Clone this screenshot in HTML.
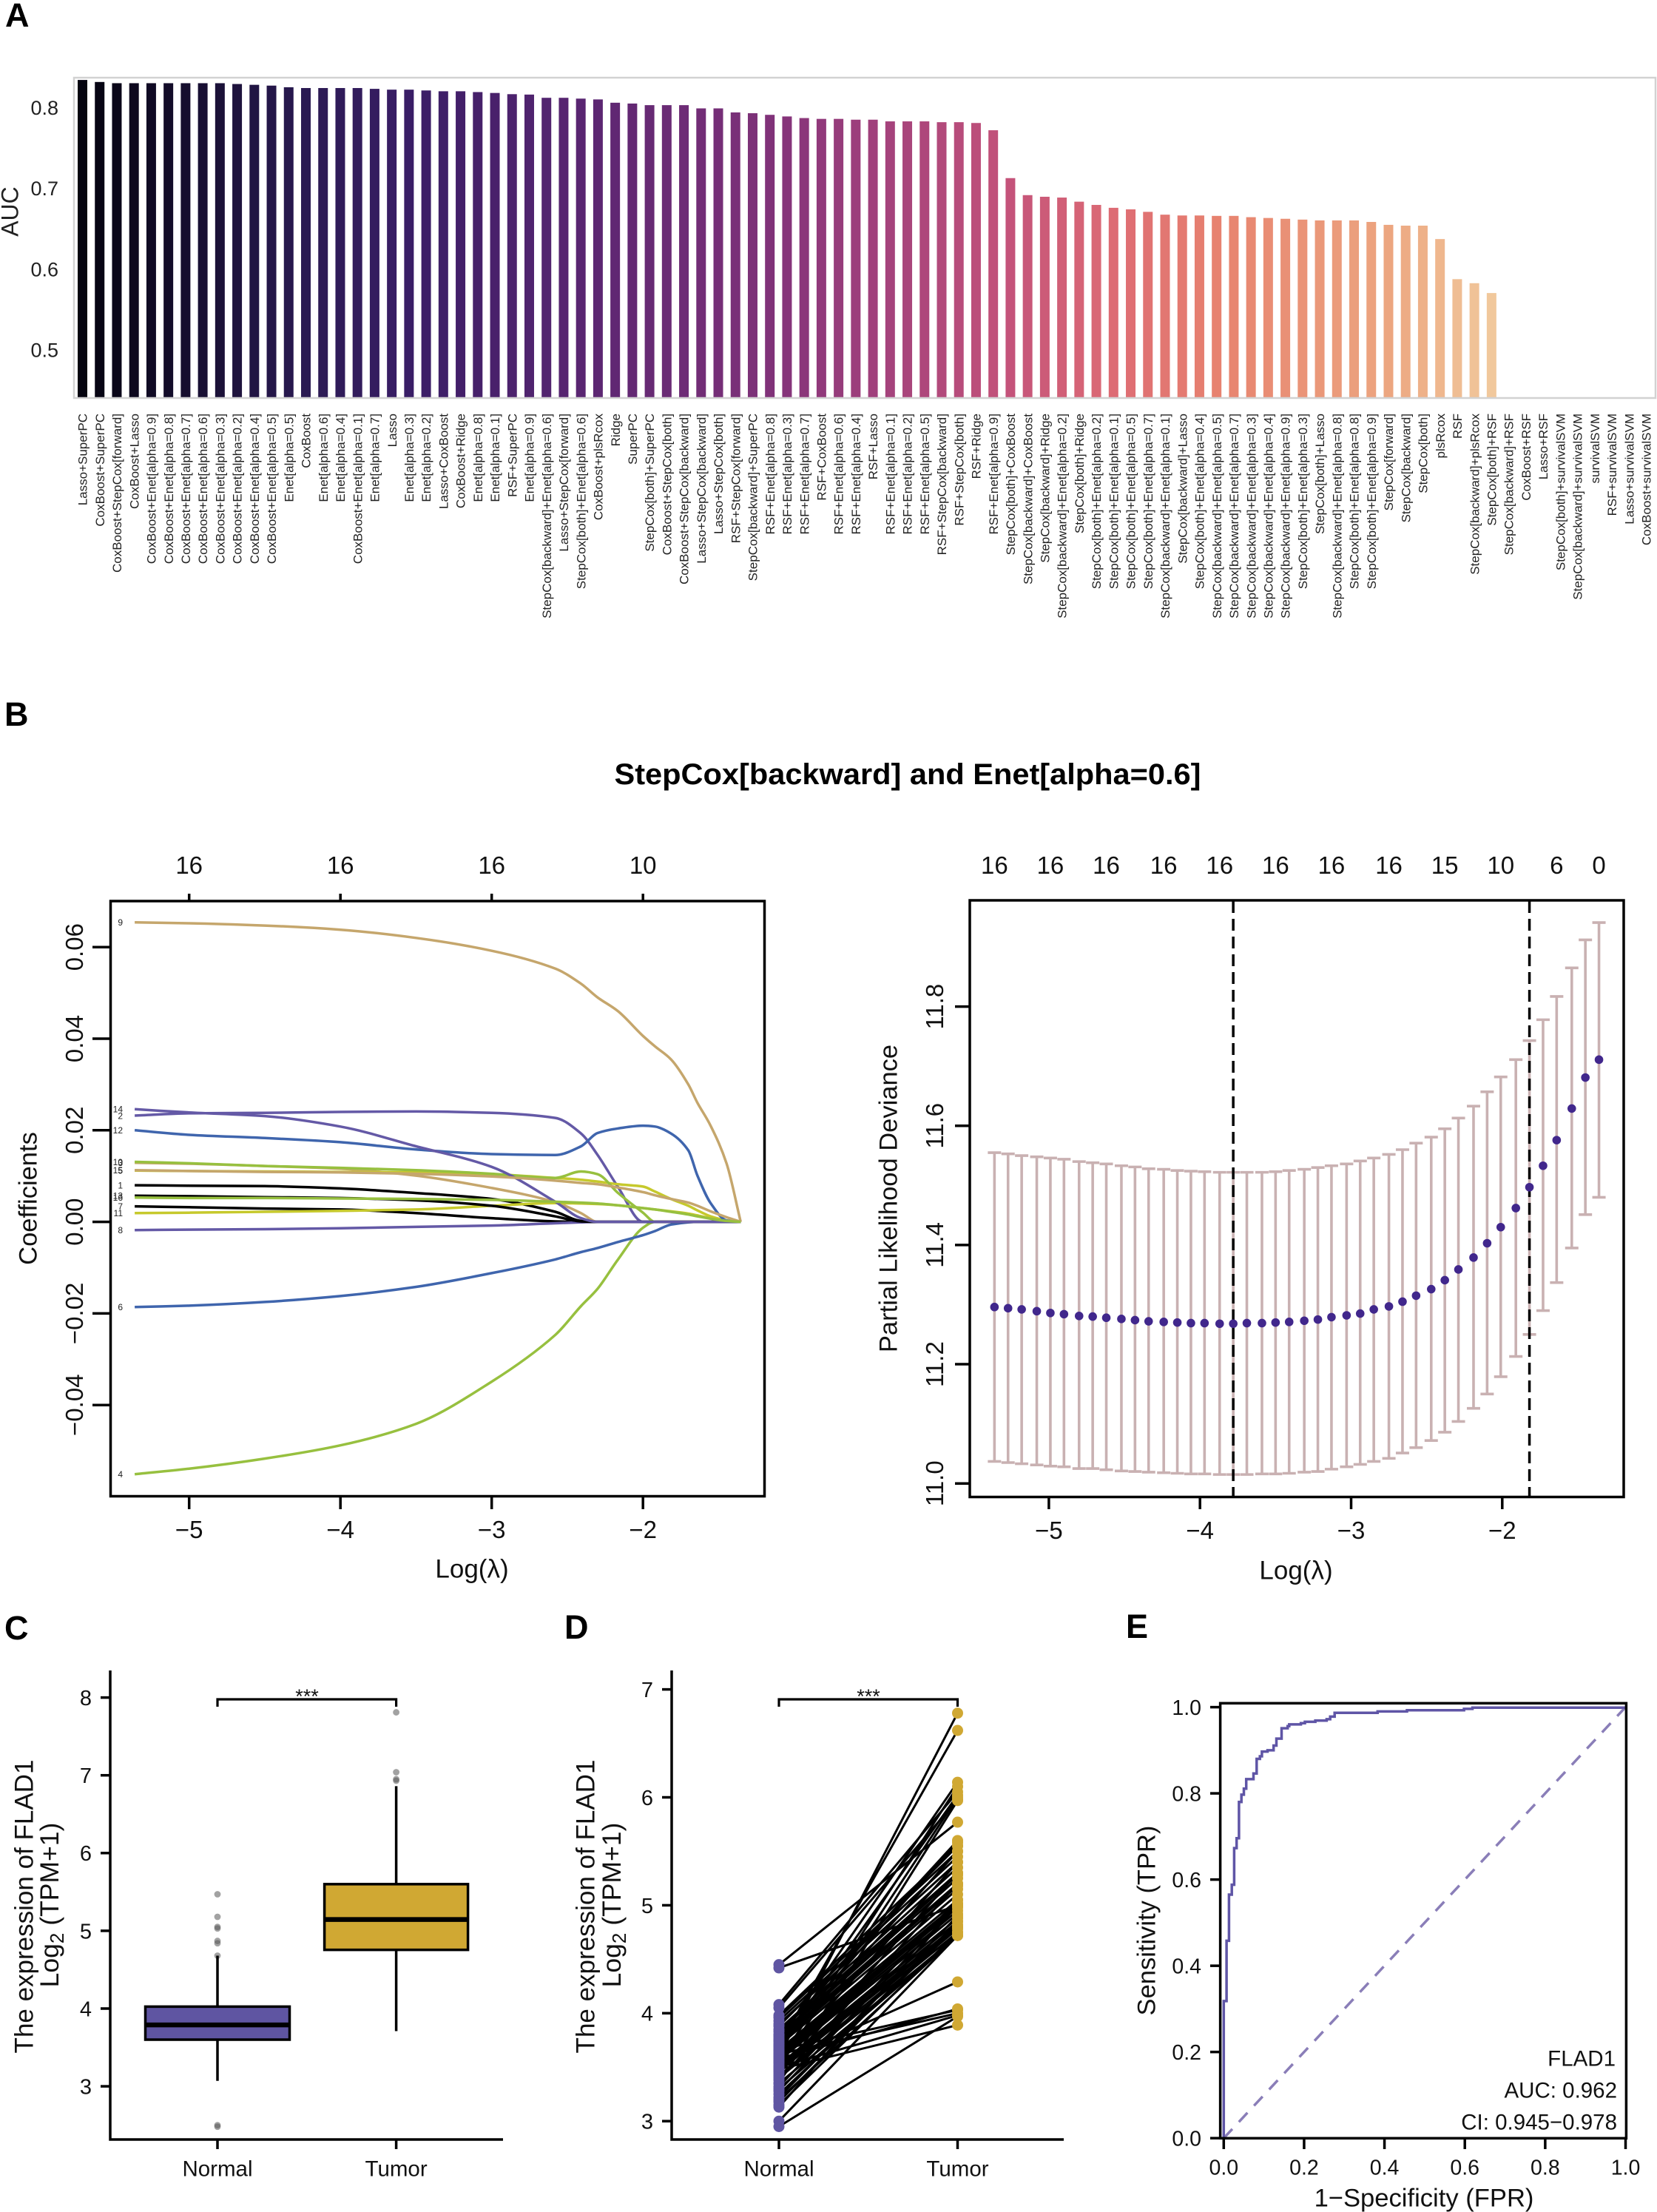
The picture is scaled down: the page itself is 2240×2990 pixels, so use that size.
<!DOCTYPE html>
<html lang="en">
<head>
<meta charset="utf-8">
<title>StepCox[backward] and Enet[alpha=0.6] figure</title>
<style>
html,body{margin:0;padding:0;background:#fff;}
svg{display:block;font-family:"Liberation Sans",Arial,sans-serif;}
</style>
</head>
<body>
<svg id="fig" xmlns="http://www.w3.org/2000/svg" width="2240" height="2990" viewBox="0 0 2240 2990">
<rect width="2240" height="2990" fill="#fff"/>
<text x="7" y="36" font-size="45" font-weight="bold">A</text>
<text x="6" y="981" font-size="45" font-weight="bold">B</text>
<text x="6" y="2216" font-size="45" font-weight="bold">C</text>
<text x="763" y="2215" font-size="45" font-weight="bold">D</text>
<text x="1522" y="2214" font-size="45" font-weight="bold">E</text>
<g id="panelA">
<text transform="translate(13 286) rotate(-90)" dy=".36em" text-anchor="middle" font-size="32" fill="#222">AUC</text>
</g>
<text x="1227" y="1060" text-anchor="middle" font-size="40" font-weight="bold" textLength="793" lengthAdjust="spacingAndGlyphs">StepCox[backward] and Enet[alpha=0.6]</text>
<g id="panelB1">
<text transform="translate(37 1620) rotate(-90)" dy=".36em" text-anchor="middle" font-size="34.5" fill="#111">Coefficients</text>
<text x="638" y="2120" dy=".36em" text-anchor="middle" font-size="35" fill="#111">Log(λ)</text>
</g>
<g id="panelB2">
<text transform="translate(1200 1620) rotate(-90)" dy=".36em" text-anchor="middle" font-size="34.5" fill="#111">Partial Likelihood Deviance</text>
<text x="1752" y="2122" dy=".36em" text-anchor="middle" font-size="35" fill="#111">Log(λ)</text>
</g>
<g id="panelC">
<text transform="translate(32 2577) rotate(-90)" dy=".36em" text-anchor="middle" font-size="35" fill="#111">The expression of FLAD1</text>
<text transform="translate(66 2575) rotate(-90)" dy=".36em" text-anchor="middle" font-size="35.5" fill="#111">Log<tspan dy="7" font-size="26">2</tspan><tspan dy="-7"> (TPM+1)</tspan></text>
<text x="415" y="2302" text-anchor="middle" font-size="27" fill="#111">***</text>
</g>
<g id="panelD">
<text transform="translate(791 2577) rotate(-90)" dy=".36em" text-anchor="middle" font-size="35" fill="#111">The expression of FLAD1</text>
<text transform="translate(826 2575) rotate(-90)" dy=".36em" text-anchor="middle" font-size="35.5" fill="#111">Log<tspan dy="7" font-size="26">2</tspan><tspan dy="-7"> (TPM+1)</tspan></text>
<text x="1174" y="2302" text-anchor="middle" font-size="27" fill="#111">***</text>
</g>
<g id="panelE">
<text transform="translate(1549 2596) rotate(-90)" dy=".36em" text-anchor="middle" font-size="34.5" fill="#111">Sensitivity (TPR)</text>
<text x="1925" y="2970" dy=".36em" text-anchor="middle" font-size="34.6" fill="#111">1−Specificity (FPR)</text>
<text x="2184" y="2782" dy=".36em" text-anchor="end" font-size="29.5" fill="#111">FLAD1</text>
<text x="2186" y="2825" dy=".36em" text-anchor="end" font-size="29.5" fill="#111">AUC: 0.962</text>
<text x="2186" y="2868" dy=".36em" text-anchor="end" font-size="29.5" fill="#111">CI: 0.945−0.978</text>
</g>
</svg>
<script>
/* ---------- Panel A data ---------- */
const aucModels = ["Lasso+SuperPC","CoxBoost+SuperPC","CoxBoost+StepCox[forward]","CoxBoost+Lasso","CoxBoost+Enet[alpha=0.9]","CoxBoost+Enet[alpha=0.8]","CoxBoost+Enet[alpha=0.7]","CoxBoost+Enet[alpha=0.6]","CoxBoost+Enet[alpha=0.3]","CoxBoost+Enet[alpha=0.2]","CoxBoost+Enet[alpha=0.4]","CoxBoost+Enet[alpha=0.5]","Enet[alpha=0.5]","CoxBoost","Enet[alpha=0.6]","Enet[alpha=0.4]","CoxBoost+Enet[alpha=0.1]","Enet[alpha=0.7]","Lasso","Enet[alpha=0.3]","Enet[alpha=0.2]","Lasso+CoxBoost","CoxBoost+Ridge","Enet[alpha=0.8]","Enet[alpha=0.1]","RSF+SuperPC","Enet[alpha=0.9]","StepCox[backward]+Enet[alpha=0.6]","Lasso+StepCox[forward]","StepCox[both]+Enet[alpha=0.6]","CoxBoost+plsRcox","Ridge","SuperPC","StepCox[both]+SuperPC","CoxBoost+StepCox[both]","CoxBoost+StepCox[backward]","Lasso+StepCox[backward]","Lasso+StepCox[both]","RSF+StepCox[forward]","StepCox[backward]+SuperPC","RSF+Enet[alpha=0.8]","RSF+Enet[alpha=0.3]","RSF+Enet[alpha=0.7]","RSF+CoxBoost","RSF+Enet[alpha=0.6]","RSF+Enet[alpha=0.4]","RSF+Lasso","RSF+Enet[alpha=0.1]","RSF+Enet[alpha=0.2]","RSF+Enet[alpha=0.5]","RSF+StepCox[backward]","RSF+StepCox[both]","RSF+Ridge","RSF+Enet[alpha=0.9]","StepCox[both]+CoxBoost","StepCox[backward]+CoxBoost","StepCox[backward]+Ridge","StepCox[backward]+Enet[alpha=0.2]","StepCox[both]+Ridge","StepCox[both]+Enet[alpha=0.2]","StepCox[both]+Enet[alpha=0.1]","StepCox[both]+Enet[alpha=0.5]","StepCox[both]+Enet[alpha=0.7]","StepCox[backward]+Enet[alpha=0.1]","StepCox[backward]+Lasso","StepCox[both]+Enet[alpha=0.4]","StepCox[backward]+Enet[alpha=0.5]","StepCox[backward]+Enet[alpha=0.7]","StepCox[backward]+Enet[alpha=0.3]","StepCox[backward]+Enet[alpha=0.4]","StepCox[backward]+Enet[alpha=0.9]","StepCox[both]+Enet[alpha=0.3]","StepCox[both]+Lasso","StepCox[backward]+Enet[alpha=0.8]","StepCox[both]+Enet[alpha=0.8]","StepCox[both]+Enet[alpha=0.9]","StepCox[forward]","StepCox[backward]","StepCox[both]","plsRcox","RSF","StepCox[backward]+plsRcox","StepCox[both]+RSF","StepCox[backward]+RSF","CoxBoost+RSF","Lasso+RSF","StepCox[both]+survivalSVM","StepCox[backward]+survivalSVM","survivalSVM","RSF+survivalSVM","Lasso+survivalSVM","CoxBoost+survivalSVM"];
const aucValues = [0.8342,0.8317,0.8302,0.8302,0.8302,0.8302,0.8302,0.8302,0.8302,0.8292,0.8282,0.8272,0.8252,0.8242,0.8242,0.8242,0.8242,0.8232,0.8222,0.8222,0.8212,0.8202,0.8202,0.8192,0.8181,0.8166,0.8161,0.8121,0.8121,0.8111,0.8101,0.8060,0.8050,0.8030,0.8030,0.8030,0.7990,0.7990,0.7940,0.7930,0.7910,0.7890,0.7870,0.7860,0.7860,0.7850,0.7850,0.7829,0.7829,0.7829,0.7819,0.7819,0.7809,0.7719,0.7126,0.6915,0.6895,0.6885,0.6834,0.6794,0.6758,0.6739,0.6708,0.6673,0.6663,0.6663,0.6658,0.6658,0.6642,0.6632,0.6622,0.6612,0.6602,0.6602,0.6602,0.6583,0.6547,0.6537,0.6537,0.6371,0.5874,0.5824,0.5702,null,null,null,null,null,null,null,null,null];
const aucTicks = [0.5,0.6,0.7,0.8];

/* ---------- Panel B left data ---------- */
const coefLogLambda = [-5.36,-5,-4.5,-4,-3.5,-3,-2.58,-2.41,-2.3,-2.165,-2,-1.92,-1.815,-1.7,-1.64,-1.553,-1.447,-1.354];
const coef1 = [0.0080,0.0079,0.0078,0.0073,0.0063,0.0050,0.0022,0.0002,0,0,0,0,0,0,0,0,0,0];
const coef2 = [0.0232,0.0237,0.0238,0.0240,0.0241,0.0238,0.0227,0.0193,0.0146,0.0076,0,0,0,0,0,0,0,0];
const coef3 = [0.0129,0.0127,0.0122,0.0116,0.0101,0.0074,0.0043,0.0019,0,0,0,0,0,0,0,0,0,0];
const coef4 = [-0.0551,-0.0539,-0.0517,-0.0488,-0.0441,-0.0349,-0.0247,-0.0184,-0.0146,-0.0082,-0.0013,0,0,0,0,0,0,0];
const coef5 = [0.0112,0.0111,0.0110,0.0109,0.0108,0.0104,0.0096,0.0092,0.0088,0.0082,0.0077,0.0066,0.0050,0.0035,0.0025,0.0012,0.0003,0];
const coef6 = [-0.0186,-0.0183,-0.0175,-0.0162,-0.0142,-0.0112,-0.0082,-0.0066,-0.0057,-0.0044,-0.0029,-0.0020,-0.0006,-0.0001,0,0,0,0];
const coef7 = [0.0034,0.0032,0.0029,0.0027,0.0019,0.0008,0.0001,0,0,0,0,0,0,0,0,0,0,0];
const coef8 = [-0.0018,-0.0017,-0.0016,-0.0014,-0.0011,-0.0008,-0.0003,-0.0001,0,0,0,0,0,0,0,0,0,0];
const coef9 = [0.0654,0.0652,0.0647,0.0638,0.0620,0.0592,0.0553,0.0520,0.0490,0.0460,0.0406,0.0383,0.0355,0.0300,0.0260,0.0210,0.0127,0];
const coef10 = [0.0131,0.0128,0.0122,0.0118,0.0113,0.0105,0.0096,0.0110,0.0104,0.0063,0.0020,0,0,0,0,0,0,0];
const coef11 = [0.0019,0.0020,0.0022,0.0024,0.0027,0.0035,0.0041,0.0040,0.0039,0.0036,0.0030,0.0027,0.0023,0.0018,0.0014,0.0008,0.0002,0];
const coef12 = [0.0200,0.0190,0.0183,0.0174,0.0158,0.0148,0.0146,0.0165,0.0194,0.0204,0.0210,0.0208,0.0193,0.0156,0.0101,0.0041,0.0003,0];
const coef13 = [0.0057,0.0056,0.0054,0.0052,0.0047,0.0035,0.0012,0.0001,0,0,0,0,0,0,0,0,0,0];
const coef14 = [0.0246,0.0239,0.0231,0.0208,0.0165,0.0120,0.0044,0.0008,0,0,0,0,0,0,0,0,0,0];
const coef15 = [0.0113,0.0111,0.0109,0.0108,0.0105,0.0099,0.0090,0.0085,0.0082,0.0075,0.0065,0.0058,0.0050,0.0042,0.0035,0.0023,0.0010,0];
const coef16 = [0.0053,0.0052,0.0052,0.0051,0.0050,0.0048,0.0044,0.0042,0.0040,0.0036,0.0030,0.0027,0.0022,0.0016,0.0012,0.0007,0.0002,0];
const coefTicks = [-0.04,-0.02,0,0.02,0.04,0.06];
const coefTickLabels = ["−0.04","−0.02","0.00","0.02","0.04","0.06"];
const lambdaTicks = [-5,-4,-3,-2];
const lambdaTickLabels = ["−5","−4","−3","−2"];
const coefTopCounts = ["16","16","16","10"];

/* ---------- Panel B right data ---------- */
const cvLogLambda = [-5.36,-5.27,-5.18,-5.08,-4.99,-4.90,-4.80,-4.71,-4.62,-4.52,-4.43,-4.34,-4.24,-4.15,-4.06,-3.97,-3.87,-3.78,-3.69,-3.59,-3.50,-3.41,-3.31,-3.22,-3.13,-3.03,-2.94,-2.85,-2.75,-2.66,-2.57,-2.47,-2.38,-2.29,-2.19,-2.10,-2.01,-1.91,-1.82,-1.73,-1.64,-1.54,-1.45,-1.36];
const cvMean = [11.296,11.294,11.292,11.289,11.286,11.284,11.281,11.280,11.278,11.276,11.274,11.272,11.271,11.270,11.269,11.269,11.268,11.268,11.269,11.269,11.270,11.271,11.273,11.275,11.279,11.282,11.285,11.292,11.297,11.305,11.315,11.326,11.341,11.359,11.379,11.403,11.430,11.462,11.497,11.533,11.576,11.629,11.681,11.711];
const cvUpper = [11.555,11.553,11.550,11.548,11.546,11.544,11.540,11.538,11.536,11.533,11.531,11.528,11.527,11.525,11.524,11.523,11.522,11.522,11.522,11.522,11.523,11.525,11.527,11.530,11.533,11.536,11.541,11.546,11.552,11.560,11.571,11.581,11.595,11.613,11.633,11.657,11.682,11.711,11.743,11.778,11.817,11.865,11.912,11.941];
const cvLower = [11.037,11.035,11.033,11.031,11.029,11.028,11.025,11.025,11.023,11.021,11.020,11.019,11.018,11.017,11.016,11.016,11.015,11.015,11.015,11.016,11.016,11.017,11.019,11.020,11.024,11.028,11.032,11.037,11.042,11.051,11.060,11.072,11.086,11.104,11.126,11.150,11.179,11.213,11.250,11.290,11.337,11.395,11.451,11.480];
const cvVlines = [-3.78,-1.82];
const cvTicks = [11.0,11.2,11.4,11.6,11.8];
const cvTickLabels = ["11.0","11.2","11.4","11.6","11.8"];
const cvTopPos = [-5.36,-4.99,-4.62,-4.24,-3.87,-3.50,-3.13,-2.75,-2.38,-2.01,-1.64,-1.36];
const cvTopCounts = ["16","16","16","16","16","16","16","16","15","10","6","0"];

/* ---------- Panel C data ---------- */
const boxGroups = ["Normal","Tumor"];
const boxQ1 = [3.60,4.755];
const boxMedian = [3.79,5.145];
const boxQ3 = [4.025,5.60];
const boxWhiskerLow = [3.07,3.71];
const boxWhiskerHigh = [4.68,6.86];
const normalOutliers = [5.47,5.18,5.05,5.03,4.87,4.84,4.68,2.50,2.48];
const tumorOutliers = [7.81,7.04,6.95,6.93];
const boxTicks = [3,4,5,6,7,8];

/* ---------- Panel D data ---------- */
const pairedNormal = [4.45,4.42,4.08,4.05,3.75,3.55,3.60,3.70,3.70,3.35,3.80,3.98,3.96,3.93,3.90,3.88,3.85,3.83,3.80,3.78,3.76,3.74,3.72,3.70,3.68,3.66,3.64,3.62,3.60,3.58,3.56,3.54,3.52,3.50,3.48,3.46,3.44,3.42,3.40,3.38,3.35,3.32,3.30,3.28,3.25,3.22,3.20,3.18,3.15,3.13,3.00,2.95,3.55,3.58,3.62,3.50,3.48,3.66,3.50,3.75];
const pairedTumor = [5.77,5.00,6.05,5.98,6.14,6.10,6.78,6.62,6.02,5.97,5.60,5.55,5.50,5.45,5.40,5.55,5.35,5.30,5.28,5.25,5.20,5.18,5.15,5.10,5.50,5.05,5.02,5.00,4.98,4.95,4.92,5.40,4.88,4.85,4.82,4.80,5.30,4.78,4.75,5.20,4.72,5.05,4.72,5.00,4.80,4.90,4.72,4.85,4.75,5.00,4.72,3.97,4.29,4.04,4.00,3.98,3.89,4.03,6.00,5.58];
const pairedTicks = [3,4,5,6,7];

/* ---------- Panel E data ---------- */
const rocFpr = [0,0,0.007,0.013,0.020,0.026,0.032,0.038,0.044,0.050,0.056,0.074,0.082,0.090,0.095,0.109,0.124,0.131,0.144,0.159,0.163,0.192,0.202,0.228,0.256,0.265,0.276,0.383,0.456,0.598,0.619,1.0];
const rocTpr = [0,0.318,0.458,0.565,0.588,0.673,0.696,0.780,0.797,0.811,0.833,0.846,0.880,0.886,0.897,0.900,0.911,0.927,0.951,0.956,0.960,0.963,0.966,0.969,0.972,0.978,0.987,0.990,0.993,0.996,0.999,1.0];
const rocTicks = [0,0.2,0.4,0.6,0.8,1.0];
const rocTickLabels = ["0.0","0.2","0.4","0.6","0.8","1.0"];

/* ---------- helpers ---------- */
const NS = "http://www.w3.org/2000/svg";
function mk(parent, tag, attrs, txt) {
  const el = document.createElementNS(NS, tag);
  for (const k in attrs) el.setAttribute(k, attrs[k]);
  if (txt !== undefined) el.textContent = txt;
  parent.appendChild(el);
  return el;
}
function hLine(parent, x1, y1, x2, y2, w, color) {
  return mk(parent, "line", {x1:x1, y1:y1, x2:x2, y2:y2, stroke:color||"#000", "stroke-width":w});
}
function lab(parent, x, y, str, size, anchor, rot, color) {
  const a = {"text-anchor":anchor||"middle", "font-size":size, fill:color||"#111", dy:".36em"};
  if (rot) a.transform = "translate("+x+" "+y+") rotate(-90)";
  else { a.x = x; a.y = y; }
  return mk(parent, "text", a, str);
}
function hex2(c){return [parseInt(c.slice(1,3),16),parseInt(c.slice(3,5),16),parseInt(c.slice(5,7),16)];}
function barColor(i){
  const st = [[0,'#04030f'],[13,'#2a1a52'],[19,'#391d66'],[30,'#5c2672'],[40,'#803279'],[45,'#9c3e7c'],[54,'#c4537a'],[60,'#dd6b74'],[66,'#e7826f'],[76,'#eca680'],[82,'#f1c89c']];
  for (let k=0;k<st.length-1;k++){
    if (i<=st[k+1][0]){
      const t=(i-st[k][0])/(st[k+1][0]-st[k][0]), a=hex2(st[k][1]), b=hex2(st[k+1][1]);
      return "rgb("+a.map((v,j)=>Math.round(v+(b[j]-v)*t)).join(",")+")";
    }
  }
  return st[st.length-1][1];
}
/* monotone cubic path through (px,py) screen points */
function smoothPath(px, py){
  const n = px.length, d = [], m = [];
  for (let i=0;i<n-1;i++) d[i] = (py[i+1]-py[i])/(px[i+1]-px[i]);
  m[0] = d[0]; m[n-1] = d[n-2];
  for (let i=1;i<n-1;i++) m[i] = d[i-1]*d[i] <= 0 ? 0 : 2*d[i-1]*d[i]/(d[i-1]+d[i]);
  let s = "M"+px[0].toFixed(1)+" "+py[0].toFixed(1);
  for (let i=0;i<n-1;i++){
    const h = (px[i+1]-px[i])/3;
    s += "C"+(px[i]+h).toFixed(1)+" "+(py[i]+m[i]*h).toFixed(1)+" "+(px[i+1]-h).toFixed(1)+" "+(py[i+1]-m[i+1]*h).toFixed(1)+" "+px[i+1].toFixed(1)+" "+py[i+1].toFixed(1);
  }
  return s;
}

/* ---------- Panel A ---------- */
(function(){
  const g = document.getElementById("panelA");
  const xA = i => 111.5 + i*23.23;
  const yA = v => 145.4 + (0.8-v)*1091;
  const base = 538;
  aucValues.forEach((v,i)=>{
    if (v===null) return;
    const r = mk(g,"rect",{x:xA(i)-6.5,y:yA(v),width:13,height:base-yA(v),fill:barColor(i)});
    
    
  });
  const frame = mk(g,"rect",{x:100,y:105,width:2138,height:433,fill:"none",stroke:"#d2d2d2","stroke-width":2.5});
  
  
  aucTicks.forEach(t=>{
    const l = lab(g,79,yA(t),t.toFixed(1),27,"end",false,"#222");
    
    
  });
  aucModels.forEach((m,i)=>{
    const l = lab(g,xA(i),559,m,17,"end",true,"#222");
    
    
  });
})();

/* ---------- Panel B left ---------- */
(function(){
  const g = document.getElementById("panelB1");
  const xL = v => 255.7 + (v+5)*204.5;
  const yC = v => 1651.6 - v*6190;
  const series = [
    ["1",coef1,"#000000"],["2",coef2,"#6459a6"],["3",coef3,"#c5a66c"],["4",coef4,"#97c03f"],
    ["5",coef5,"#c6c92c"],["6",coef6,"#3f65ad"],["7",coef7,"#000000"],["8",coef8,"#6459a6"],
    ["9",coef9,"#c5a66c"],["10",coef10,"#97c03f"],["11",coef11,"#c6c92c"],["12",coef12,"#3f65ad"],
    ["13",coef13,"#000000"],["14",coef14,"#6459a6"],["15",coef15,"#c5a66c"],["16",coef16,"#97c03f"]
  ];
  series.forEach(s=>{
    const px = coefLogLambda.map(xL), py = s[1].map(yC);
    const pl = mk(g,"path",{d:smoothPath(px,py),fill:"none",stroke:s[2],"stroke-width":3.5,"stroke-linejoin":"round"});
    
    
    const t = lab(g,166,yC(s[1][0]),s[0],12,"end",false,"#222");
    
    
  });
  const frame = mk(g,"rect",{x:149.5,y:1218,width:884,height:804.5,fill:"none",stroke:"#000","stroke-width":3.5});
  
  
  lambdaTicks.forEach((t,i)=>{
    const a = hLine(g,xL(t),2022,xL(t),2040,3.5);
    
    
    const b = hLine(g,xL(t),1208,xL(t),1218,3.5);
    
    
    const l = lab(g,xL(t),2067,lambdaTickLabels[i],33);
    
    
    const c = lab(g,xL(t),1169,coefTopCounts[i],33);
    
    
  });
  coefTicks.forEach((t,i)=>{
    const a = hLine(g,125,yC(t),149.5,yC(t),3.5);
    
    
    const l = lab(g,100,yC(t),coefTickLabels[i],33,"middle",true);
    
    
  });
})();

/* ---------- Panel B right ---------- */
(function(){
  const g = document.getElementById("panelB2");
  const xR = v => 1417.9 + (v+5)*204.3;
  const yD = v => 2005.2 - (v-11)*805.7;
  cvMean.forEach((m,i)=>{
    const x = xR(cvLogLambda[i]);
    const p = mk(g,"path",{d:"M"+x+" "+yD(cvLower[i])+"V"+yD(cvUpper[i])+"M"+(x-9)+" "+yD(cvUpper[i])+"H"+(x+9)+"M"+(x-9)+" "+yD(cvLower[i])+"H"+(x+9),fill:"none",stroke:"#c9b1b2","stroke-width":3.6});
    
    
  });
  cvVlines.forEach(v=>{
    const l = mk(g,"line",{x1:xR(v),x2:xR(v),y1:1218,y2:2023,stroke:"#000","stroke-width":3.5,"stroke-dasharray":"16 8"});
    
    
  });
  cvMean.forEach((m,i)=>{
    const c = mk(g,"circle",{cx:xR(cvLogLambda[i]),cy:yD(m),r:5.8,fill:"#41278c"});
    
    
  });
  const frame = mk(g,"rect",{x:1311,y:1217,width:884,height:806.5,fill:"none",stroke:"#000","stroke-width":3.5});
  
  
  lambdaTicks.forEach((t,i)=>{
    const a = hLine(g,xR(t),2023,xR(t),2040,3.5);
    
    
    const l = lab(g,xR(t),2068,lambdaTickLabels[i],33);
    
    
  });
  cvTicks.forEach((t,i)=>{
    const a = hLine(g,1291,yD(t),1311,yD(t),3.5);
    
    
    const l = lab(g,1263,yD(t),cvTickLabels[i],33,"middle",true);
    
    
  });
  cvTopPos.forEach((p,i)=>{
    const l = lab(g,xR(p),1169,cvTopCounts[i],33);
    
    
  });
})();

/* ---------- shared L-axes for C and D ---------- */
function lAxes(g, axisX, rightX, ticks, yFn, prefix, xCenters){
  const ax = mk(g,"path",{d:"M"+axisX+" 2258V2892H"+rightX,fill:"none",stroke:"#000","stroke-width":3.5});
  
  
  ticks.forEach(t=>{
    const a = hLine(g,axisX-13,yFn(t),axisX,yFn(t),3.5);
    
    
    const l = lab(g,axisX-25,yFn(t),String(t),29,"end");
    
    
  });
  boxGroups.forEach((n,i)=>{
    const a = hLine(g,xCenters[i],2892,xCenters[i],2905,3.5);
    
    
    const l = lab(g,xCenters[i],2931,n,29.5);
    
    
  });
  const br = mk(g,"path",{d:"M"+xCenters[0]+" 2307V2297H"+xCenters[1]+"V2307",fill:"none",stroke:"#000","stroke-width":3.2});
  
  
}

/* ---------- Panel C ---------- */
(function(){
  const g = document.getElementById("panelC");
  const yB = v => 2715 - (v-4)*105.1;
  const xc = [294,535.6], hw = [97.5,97], fills = ["#5f55a2","#d0a833"];
  lAxes(g,149,680,boxTicks,yB,"boxplot",xc);
  const outs = [normalOutliers,tumorOutliers];
  outs.forEach((arr,i)=>arr.forEach(v=>{
    const c = mk(g,"circle",{cx:xc[i],cy:yB(v),r:4.4,fill:"#555","fill-opacity":0.55});
    
    
  }));
  boxGroups.forEach((n,i)=>{
    const w = hLine(g,xc[i],yB(boxWhiskerLow[i]),xc[i],yB(boxWhiskerHigh[i]),3.5);
    
    
    const r = mk(g,"rect",{x:xc[i]-hw[i],y:yB(boxQ3[i]),width:hw[i]*2,height:yB(boxQ1[i])-yB(boxQ3[i]),fill:fills[i],stroke:"#000","stroke-width":3.5});
    
    
    const m = hLine(g,xc[i]-hw[i],yB(boxMedian[i]),xc[i]+hw[i],yB(boxMedian[i]),6.5);
    
    
  });
})();

/* ---------- Panel D ---------- */
(function(){
  const g = document.getElementById("panelD");
  const yP = v => 2721.3 - (v-4)*145.9;
  const xc = [1053,1294.5];
  lAxes(g,908,1438,pairedTicks,yP,"paired",xc);
  pairedNormal.forEach((v,i)=>{
    const l = hLine(g,xc[0],yP(v),xc[1],yP(pairedTumor[i]),3);
    
    
  });
  pairedNormal.forEach(v=>{
    const c = mk(g,"circle",{cx:xc[0],cy:yP(v),r:7.5,fill:"#5f55a2"});
    
    
  });
  pairedTumor.forEach(v=>{
    const c = mk(g,"circle",{cx:xc[1],cy:yP(v),r:7.5,fill:"#d0a833"});
    
    
  });
})();

/* ---------- Panel E ---------- */
(function(){
  const g = document.getElementById("panelE");
  const xF = v => 1654.3 + v*543.2;
  const yT = v => 2890.2 - v*582.6;
  const diag = mk(g,"line",{x1:xF(0),y1:yT(0),x2:xF(1),y2:yT(1),stroke:"#8a7eb8","stroke-width":3.5,"stroke-dasharray":"17 13"});
  
  
  let d = "M"+xF(rocFpr[0])+" "+yT(rocTpr[0]);
  for (let i=1;i<rocFpr.length;i++){
    d += "L"+xF(rocFpr[i]).toFixed(1)+" "+yT(rocTpr[i-1]).toFixed(1)+"L"+xF(rocFpr[i]).toFixed(1)+" "+yT(rocTpr[i]).toFixed(1);
  }
  const curve = mk(g,"path",{d:d,fill:"none",stroke:"#5f55a6","stroke-width":3.5});
  
  
  const frame = mk(g,"rect",{x:1649.6,y:2302.3,width:548.8,height:588,fill:"none",stroke:"#000","stroke-width":3.5});
  
  
  rocTicks.forEach((t,i)=>{
    const a = hLine(g,xF(t),2890,xF(t),2905,3.5);
    
    
    const l = lab(g,xF(t),2929,rocTickLabels[i],28.5);
    
    
    const b = hLine(g,1636,yT(t),1649.6,yT(t),3.5);
    
    
    const m = lab(g,1624,yT(t),rocTickLabels[i],28.5,"end");
    
    
  });
})();
</script>
</body>
</html>
